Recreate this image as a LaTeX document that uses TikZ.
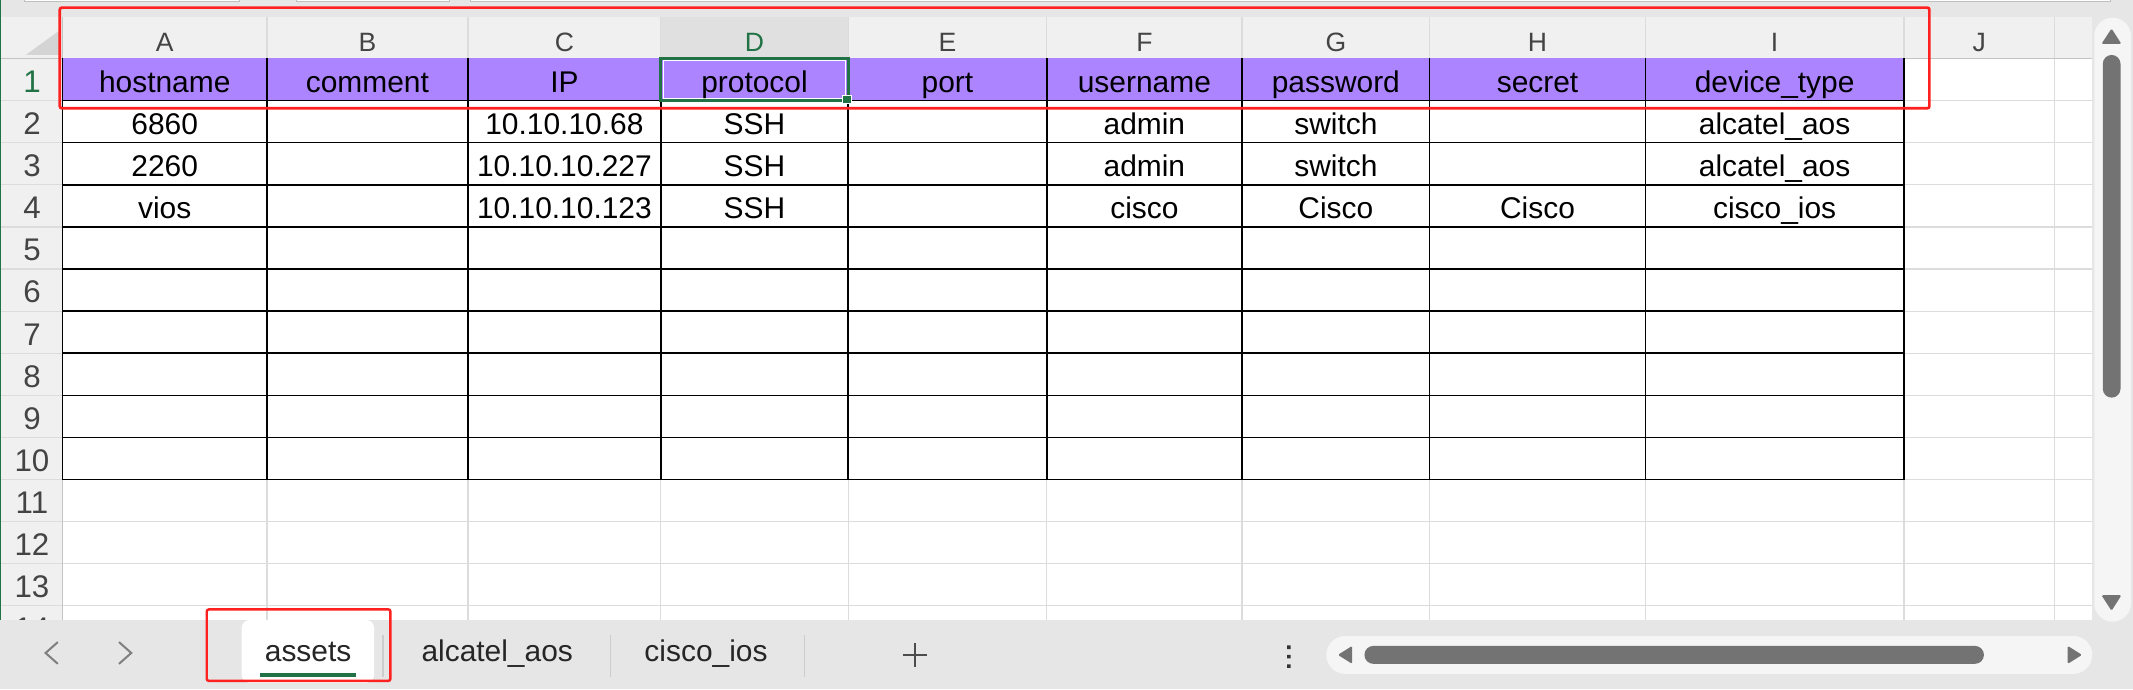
\documentclass[tikz,border=0pt]{standalone}
\usepackage{fontspec}
\setmainfont{Liberation Sans}

\definecolor{headpurple}{HTML}{AC84FF}
\definecolor{xlgreen}{HTML}{217346}
\definecolor{markred}{HTML}{FF2020}
\definecolor{chrome}{HTML}{E6E6E6}
\definecolor{headbg}{HTML}{F0F0F0}
\definecolor{headsel}{HTML}{E0E0E0}
\definecolor{gridgray}{HTML}{DCDCDC}
\definecolor{edgegray}{HTML}{C4C4C4}
\definecolor{track}{HTML}{F5F5F5}
\definecolor{thumb}{HTML}{737373}
\definecolor{labelgray}{HTML}{444444}

\tikzset{
  cell/.style={anchor=base, inner sep=0pt, font=\fontsize{22}{26}\selectfont},
  collabel/.style={anchor=base, inner sep=0pt, text=labelgray, font=\fontsize{19.5}{23}\selectfont},
  rowlabel/.style={anchor=base, inner sep=0pt, text=labelgray, font=\fontsize{23}{27}\selectfont},
  tablabel/.style={anchor=base, inner sep=0pt, text=black!85, font=\fontsize{22}{26}\selectfont},
  gridline/.style={draw=gridgray, line width=0.9pt},
  cellline/.style={draw=black, line width=1.1pt},
  marker/.style={draw=markred, line width=2pt, rounded corners=1.5pt},
}

\begin{document}
\begin{tikzpicture}[x=1pt,y=-1pt]
  \def\xA{46}
  \def\xB{196.2}
  \def\xC{344}
  \def\xD{485.8}
  \def\xE{623.5}
  \def\xF{769.5}
  \def\xG{913}
  \def\xH{1051}
  \def\xI{1209.5}
  \def\xJ{1399.6}
  \def\xK{1510.5}
  \def\xend{1538}
  \def\yhead{12.2}
  \def\ytop{43}
  \def\rowh{30.95}
  \def\ybot{455.7}
  \def\yb{37}

  \useasboundingbox (0,0) rectangle (1568,506.5);

  % Window chrome and sheet area
  \fill[chrome] (0,0) rectangle (1568,506.5);
  \filldraw[fill=white, draw=black!25, line width=0.5pt] (18,-2) rectangle (176,1.2);
  \filldraw[fill=white, draw=black!25, line width=0.5pt] (218,-2) rectangle (330,1.2);
  \filldraw[fill=white, draw=black!25, line width=0.5pt] (346,-2) rectangle (1551,1.2);
  \fill[white] (\xA,\ytop) rectangle (\xend,\ybot);
  \fill[headbg] (0,\yhead) rectangle (\xend,\ytop);
  \fill[headbg] (0,\ytop) rectangle (\xA,\ybot);
  \fill[headsel] (\xD,\yhead) rectangle (\xE,\ytop);
  \fill[black!17] (19,40.4) -- (44.3,40.4) -- (44.3,22) -- cycle;

  % Light grid
  \draw[gridline]
    (\xB,\yhead) -- (\xB,\ybot)  (\xC,\yhead) -- (\xC,\ybot)
    (\xD,\yhead) -- (\xD,\ybot)  (\xE,\yhead) -- (\xE,\ybot)
    (\xF,\yhead) -- (\xF,\ybot)  (\xG,\yhead) -- (\xG,\ybot)
    (\xH,\yhead) -- (\xH,\ybot)  (\xI,\yhead) -- (\xI,\ybot)
    (\xJ,\yhead) -- (\xJ,\ybot)  (\xK,\yhead) -- (\xK,\ybot);
  \draw[gridline]
    (0,{\ytop+1*\rowh}) -- (\xend,{\ytop+1*\rowh})
    (0,{\ytop+2*\rowh}) -- (\xend,{\ytop+2*\rowh})
    (0,{\ytop+3*\rowh}) -- (\xend,{\ytop+3*\rowh})
    (0,{\ytop+4*\rowh}) -- (\xend,{\ytop+4*\rowh})
    (0,{\ytop+5*\rowh}) -- (\xend,{\ytop+5*\rowh})
    (0,{\ytop+6*\rowh}) -- (\xend,{\ytop+6*\rowh})
    (0,{\ytop+7*\rowh}) -- (\xend,{\ytop+7*\rowh})
    (0,{\ytop+8*\rowh}) -- (\xend,{\ytop+8*\rowh})
    (0,{\ytop+9*\rowh}) -- (\xend,{\ytop+9*\rowh})
    (0,{\ytop+10*\rowh}) -- (\xend,{\ytop+10*\rowh})
    (0,{\ytop+11*\rowh}) -- (\xend,{\ytop+11*\rowh})
    (0,{\ytop+12*\rowh}) -- (\xend,{\ytop+12*\rowh})
    (0,{\ytop+13*\rowh}) -- (\xend,{\ytop+13*\rowh});
  \draw[edgegray, line width=1pt] (0,\ytop) -- (\xend,\ytop) (\xA,\yhead) -- (\xA,\ybot);

  % Header row and table borders
  \fill[headpurple] (\xA,\ytop) rectangle (\xJ,{\ytop+\rowh});
  \draw[cellline]
    (\xA,{\ytop+1*\rowh}) -- (\xJ,{\ytop+1*\rowh})
    (\xA,{\ytop+2*\rowh}) -- (\xJ,{\ytop+2*\rowh})
    (\xA,{\ytop+3*\rowh}) -- (\xJ,{\ytop+3*\rowh})
    (\xA,{\ytop+4*\rowh}) -- (\xJ,{\ytop+4*\rowh})
    (\xA,{\ytop+5*\rowh}) -- (\xJ,{\ytop+5*\rowh})
    (\xA,{\ytop+6*\rowh}) -- (\xJ,{\ytop+6*\rowh})
    (\xA,{\ytop+7*\rowh}) -- (\xJ,{\ytop+7*\rowh})
    (\xA,{\ytop+8*\rowh}) -- (\xJ,{\ytop+8*\rowh})
    (\xA,{\ytop+9*\rowh}) -- (\xJ,{\ytop+9*\rowh})
    (\xA,{\ytop+10*\rowh}) -- (\xJ,{\ytop+10*\rowh});
  \draw[cellline]
    (\xA,\ytop) -- (\xA,{\ytop+10*\rowh})  (\xB,\ytop) -- (\xB,{\ytop+10*\rowh})
    (\xC,\ytop) -- (\xC,{\ytop+10*\rowh})  (\xD,\ytop) -- (\xD,{\ytop+10*\rowh})
    (\xE,\ytop) -- (\xE,{\ytop+10*\rowh})  (\xF,\ytop) -- (\xF,{\ytop+10*\rowh})
    (\xG,\ytop) -- (\xG,{\ytop+10*\rowh})  (\xH,\ytop) -- (\xH,{\ytop+10*\rowh})
    (\xI,\ytop) -- (\xI,{\ytop+10*\rowh})  (\xJ,\ytop) -- (\xJ,{\ytop+10*\rowh});

  % Selected cell D1
  \draw[xlgreen, line width=2.2pt] (\xD,\ytop) rectangle (\xE,{\ytop+\rowh});
  \draw[white, line width=0.7pt] ({\xD+1.8},{\ytop+1.8}) rectangle ({\xE-1.8},{\ytop+\rowh-1.8});
  \filldraw[fill=xlgreen, draw=white, line width=0.6pt] (619.4,70.4) rectangle (626.2,76);

  % Column letters
  \node[collabel] (colA) at ({0.5*(\xA+\xB)},38) {A};
  \node[collabel] (colB) at ({0.5*(\xB+\xC)},38) {B};
  \node[collabel] (colC) at ({0.5*(\xC+\xD)},38) {C};
  \node[collabel, text=xlgreen] (colD) at ({0.5*(\xD+\xE)},38) {D};
  \node[collabel] (colE) at ({0.5*(\xE+\xF)},38) {E};
  \node[collabel] (colF) at ({0.5*(\xF+\xG)},38) {F};
  \node[collabel] (colG) at ({0.5*(\xG+\xH)},38) {G};
  \node[collabel] (colH) at ({0.5*(\xH+\xI)},38) {H};
  \node[collabel] (colI) at ({0.5*(\xI+\xJ)},38) {I};
  \node[collabel] (colJ) at ({0.5*(\xJ+\xK)},38) {J};

  % Row numbers
  \node[rowlabel, text=xlgreen] (row1) at (23.5,{\yb+1*\rowh}) {1};
  \node[rowlabel] (row2) at (23.5,{\yb+2*\rowh}) {2};
  \node[rowlabel] (row3) at (23.5,{\yb+3*\rowh}) {3};
  \node[rowlabel] (row4) at (23.5,{\yb+4*\rowh}) {4};
  \node[rowlabel] (row5) at (23.5,{\yb+5*\rowh}) {5};
  \node[rowlabel] (row6) at (23.5,{\yb+6*\rowh}) {6};
  \node[rowlabel] (row7) at (23.5,{\yb+7*\rowh}) {7};
  \node[rowlabel] (row8) at (23.5,{\yb+8*\rowh}) {8};
  \node[rowlabel] (row9) at (23.5,{\yb+9*\rowh}) {9};
  \node[rowlabel] (row10) at (23.5,{\yb+10*\rowh}) {10};
  \node[rowlabel] (row11) at (23.5,{\yb+11*\rowh}) {11};
  \node[rowlabel] (row12) at (23.5,{\yb+12*\rowh}) {12};
  \node[rowlabel] (row13) at (23.5,{\yb+13*\rowh}) {13};
  \node[rowlabel] (row14) at (23.5,{\yb+14*\rowh}) {14};

  % Header cells
  \node[cell] (hostname) at ({0.5*(\xA+\xB)},{\yb+\rowh}) {hostname};
  \node[cell] (comment) at ({0.5*(\xB+\xC)},{\yb+\rowh}) {comment};
  \node[cell] (ip) at ({0.5*(\xC+\xD)},{\yb+\rowh}) {IP};
  \node[cell] (protocol) at ({0.5*(\xD+\xE)},{\yb+\rowh}) {protocol};
  \node[cell] (port) at ({0.5*(\xE+\xF)},{\yb+\rowh}) {port};
  \node[cell] (username) at ({0.5*(\xF+\xG)},{\yb+\rowh}) {username};
  \node[cell] (password) at ({0.5*(\xG+\xH)},{\yb+\rowh}) {password};
  \node[cell] (secret) at ({0.5*(\xH+\xI)},{\yb+\rowh}) {secret};
  \node[cell] (devtype) at ({0.5*(\xI+\xJ)},{\yb+\rowh}) {device\_type};

  % Data rows
  \node[cell] (a2) at ({0.5*(\xA+\xB)},{\yb+2*\rowh}) {6860};
  \node[cell] (c2) at ({0.5*(\xC+\xD)},{\yb+2*\rowh}) {10.10.10.68};
  \node[cell] (d2) at ({0.5*(\xD+\xE)},{\yb+2*\rowh}) {SSH};
  \node[cell] (f2) at ({0.5*(\xF+\xG)},{\yb+2*\rowh}) {admin};
  \node[cell] (g2) at ({0.5*(\xG+\xH)},{\yb+2*\rowh}) {switch};
  \node[cell] (i2) at ({0.5*(\xI+\xJ)},{\yb+2*\rowh}) {alcatel\_aos};

  \node[cell] (a3) at ({0.5*(\xA+\xB)},{\yb+3*\rowh}) {2260};
  \node[cell] (c3) at ({0.5*(\xC+\xD)},{\yb+3*\rowh}) {10.10.10.227};
  \node[cell] (d3) at ({0.5*(\xD+\xE)},{\yb+3*\rowh}) {SSH};
  \node[cell] (f3) at ({0.5*(\xF+\xG)},{\yb+3*\rowh}) {admin};
  \node[cell] (g3) at ({0.5*(\xG+\xH)},{\yb+3*\rowh}) {switch};
  \node[cell] (i3) at ({0.5*(\xI+\xJ)},{\yb+3*\rowh}) {alcatel\_aos};

  \node[cell] (a4) at ({0.5*(\xA+\xB)},{\yb+4*\rowh}) {vios};
  \node[cell] (c4) at ({0.5*(\xC+\xD)},{\yb+4*\rowh}) {10.10.10.123};
  \node[cell] (d4) at ({0.5*(\xD+\xE)},{\yb+4*\rowh}) {SSH};
  \node[cell] (f4) at ({0.5*(\xF+\xG)},{\yb+4*\rowh}) {cisco};
  \node[cell] (g4) at ({0.5*(\xG+\xH)},{\yb+4*\rowh}) {Cisco};
  \node[cell] (h4) at ({0.5*(\xH+\xI)},{\yb+4*\rowh}) {Cisco};
  \node[cell] (i4) at ({0.5*(\xI+\xJ)},{\yb+4*\rowh}) {cisco\_ios};

  % Sheet tab bar
  \fill[chrome] (0,\ybot) rectangle (1568,506.5);
  \draw[xlgreen, line width=1pt] (0.5,0) -- (0.5,\ybot);
  \fill[white, rounded corners=6pt] (177.6,\ybot) rectangle (275,502);
  \fill[xlgreen] (191,494.5) rectangle (261.7,497.4);
  \draw[black!50, line width=1.5pt] (42.5,472) -- (33.5,480) -- (42.5,488);
  \draw[black!50, line width=1.5pt] (87.5,472) -- (96.5,480) -- (87.5,488);
  \draw[black!20, line width=1pt] (281.6,466.7) -- (281.6,497.6) (449,466.7) -- (449,497.6) (591.6,466.7) -- (591.6,497.6);
  \node[tablabel] (tabassets) at (226.5,486) {assets};
  \node[tablabel] (tabalcatel) at (365.5,486) {alcatel\_aos};
  \node[tablabel] (tabcisco) at (519,486) {cisco\_ios};
  \draw[black!70, line width=1.6pt] (663.6,481.5) -- (681.6,481.5) (672.6,473) -- (672.6,490);
  \fill[black!80] (946.2,474.5) rectangle (948.8,477.1) (946.2,481.4) rectangle (948.8,484) (946.2,488.3) rectangle (948.8,490.9);

  % Scroll bars
  \fill[track, rounded corners=13.9pt] (975,467.5) rectangle (1538,495.4);
  \fill[thumb, rounded corners=6.6pt] (1003,474.8) rectangle (1458.4,488);
  \fill[thumb, rounded corners=1pt] (994,474.8) -- (983.5,481.4) -- (994,488) -- cycle;
  \fill[thumb, rounded corners=1pt] (1520,474.8) -- (1530.5,481.4) -- (1520,488) -- cycle;
  \fill[track, rounded corners=13.5pt] (1539.5,13) rectangle (1566.5,457);
  \fill[thumb, rounded corners=6.5pt] (1545.8,40.4) rectangle (1558.8,292.3);
  \fill[thumb, rounded corners=1pt] (1552.2,21) -- (1559.5,32.3) -- (1544.8,32.3) -- cycle;
  \fill[thumb, rounded corners=1pt] (1552.2,449) -- (1559.5,437.5) -- (1544.8,437.5) -- cycle;

  % Red marks
  \draw[marker] (44,5.6) rectangle (1418.3,79.6);
  \draw[marker, line width=1.8pt] (152,448) rectangle (287,500.5);
\end{tikzpicture}
\end{document}
